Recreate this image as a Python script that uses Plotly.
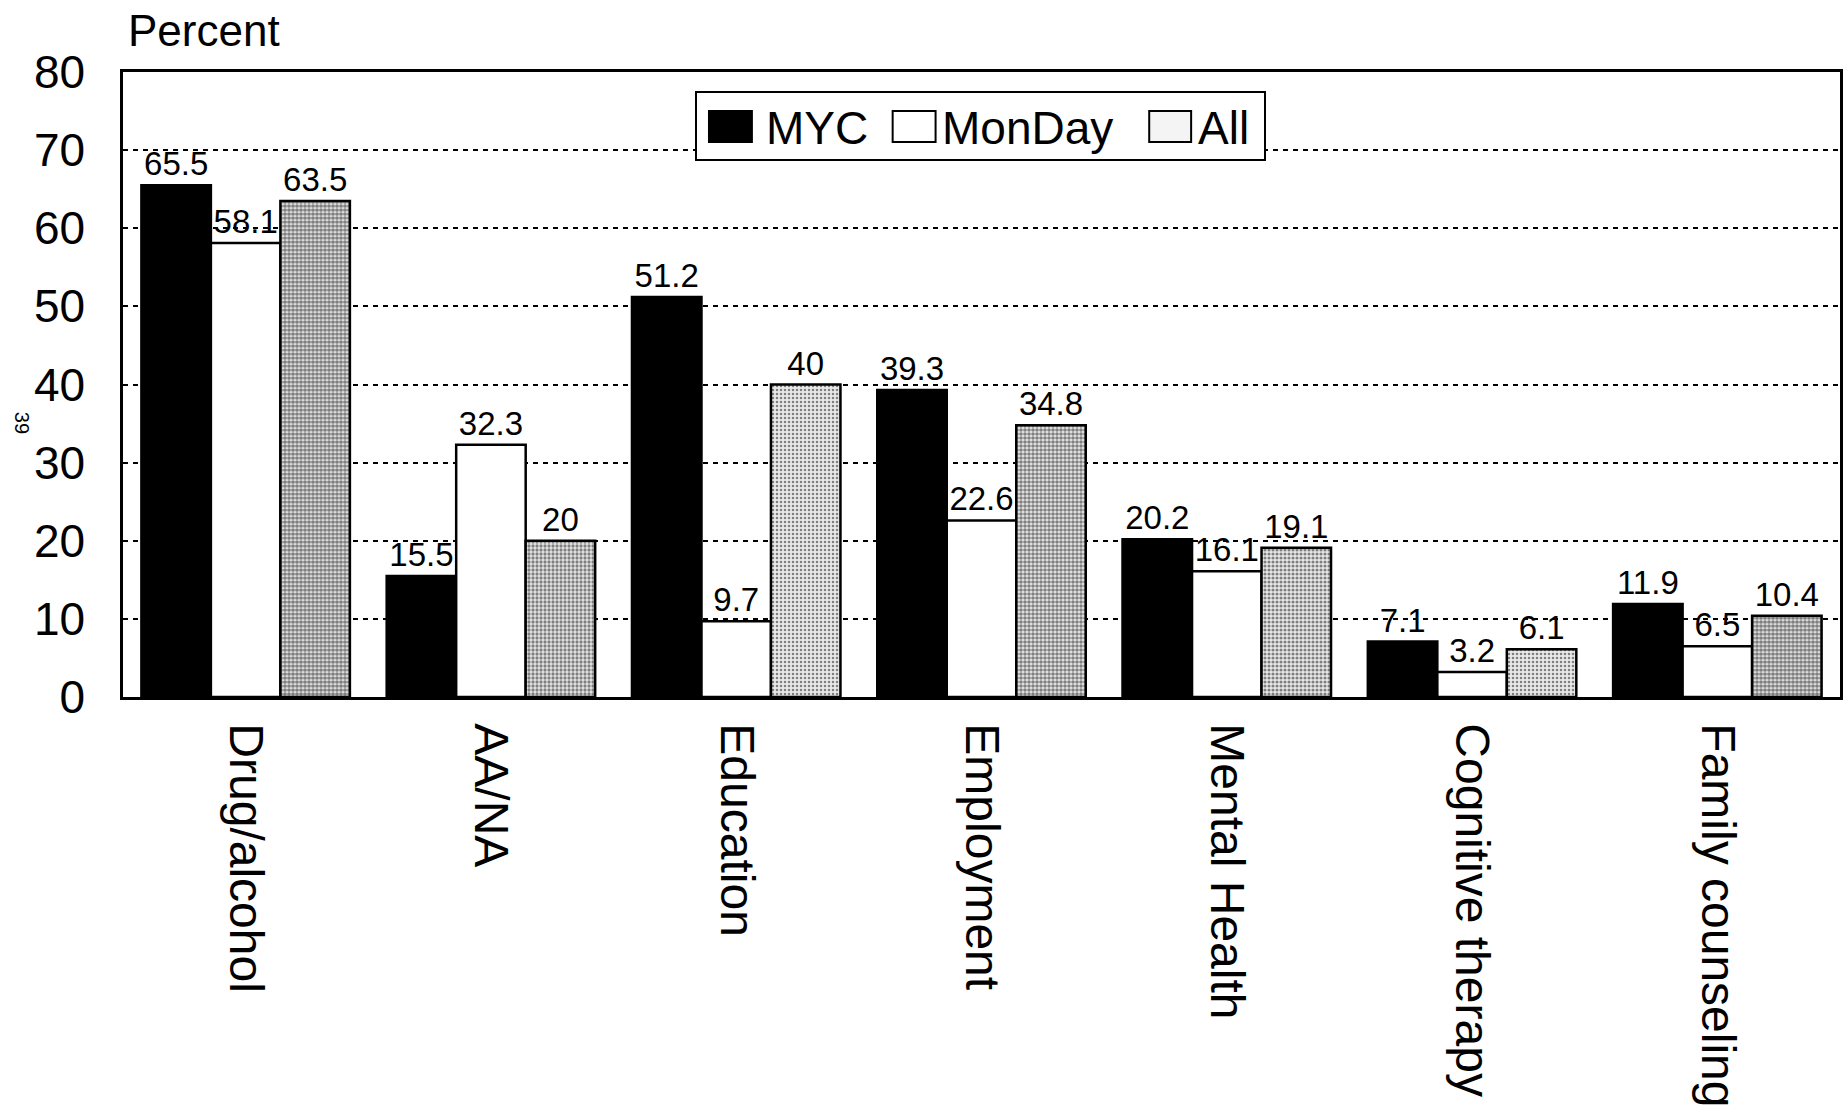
import plotly.graph_objects as go

# ---------------- data ----------------
categories = ["Drug/alcohol", "AA/NA", "Education", "Employment",
              "Mental Health", "Cognitive therapy", "Family counseling"]
myc_values = [65.5, 15.5, 51.2, 39.3, 20.2, 7.1, 11.9]
monday_values = [58.1, 32.3, 9.7, 22.6, 16.1, 3.2, 6.5]
all_values = [63.5, 20, 40, 34.8, 19.1, 6.1, 10.4]
series_names = ["MYC", "MonDay", "All"]
y_tick_values = [0, 10, 20, 30, 40, 50, 60, 70, 80]

# ---------------- style / layout ----------------
FONT = "Liberation Sans, Arial, Helvetica, sans-serif"
W, H = 1847, 1118
PL, PR, PT, PB = 123, 1843, 72, 697   # plot area in pixels
LW = 2.5

def px_x(px):
    return (px - PL) / (PR - PL)

def px_y(py):
    return (PB - py) / (PB - PT)

stipple_solidity = [0.68, 0.52, 0.32, 0.62, 0.48, 0.32, 0.68]

fig = go.Figure()
fig.add_bar(
    x=categories, y=myc_values, name=series_names[0],
    marker=dict(color="black", line=dict(color="black", width=LW)),
)
fig.add_bar(
    x=categories, y=monday_values, name=series_names[1],
    marker=dict(color="white", line=dict(color="black", width=LW)),
)
fig.add_bar(
    x=categories, y=all_values, name=series_names[2],
    marker=dict(
        color="white",
        line=dict(color="black", width=LW),
        pattern=dict(shape=".", fgcolor="#151515", bgcolor="#e8e8e8",
                     size=4, solidity=stipple_solidity),
    ),
)
fig.update_traces(
    texttemplate="%{y}", textposition="outside", cliponaxis=False,
    constraintext="none",
    textfont=dict(family=FONT, size=33, color="black"),
    showlegend=False,
)

fig.update_layout(
    width=W, height=H,
    margin=dict(l=PL, r=W - PR, t=PT, b=H - PB, pad=0),
    paper_bgcolor="white", plot_bgcolor="white",
    barmode="group", bargap=0.15, bargroupgap=0,
    font=dict(family=FONT, color="black"),
    showlegend=False,
)
fig.update_xaxes(
    showline=True, mirror=True, linecolor="black", linewidth=LW,
    tickangle=90, tickfont=dict(size=48, family=FONT, color="black"),
    ticks="", ticklabelstandoff=14, showgrid=False,
)
fig.update_yaxes(
    range=[0, 80], tickmode="array", tickvals=y_tick_values,
    ticktext=[str(v) for v in y_tick_values],
    tickfont=dict(size=46, family=FONT, color="black"),
    showline=True, mirror=True, linecolor="black", linewidth=LW,
    showgrid=True, gridcolor="black", gridwidth=1.5, griddash="5px,5px",
    zeroline=False, ticks="", ticklabelstandoff=26,
)

# axis title "Percent"
fig.add_annotation(
    text="Percent", xref="paper", yref="paper",
    x=px_x(126), y=px_y(30), xanchor="left", yanchor="middle",
    showarrow=False, font=dict(size=44, family=FONT, color="black"),
)
# page number at left margin
fig.add_annotation(
    text="39", xref="paper", yref="paper",
    x=px_x(22), y=px_y(423), xanchor="center", yanchor="middle",
    textangle=90, showarrow=False,
    font=dict(size=20, family=FONT, color="black"),
)

# ---------------- legend (boxed, large swatches) ----------------
fig.add_shape(type="rect", xref="paper", yref="paper",
              x0=px_x(697), x1=px_x(1267), y0=px_y(160), y1=px_y(92),
              line=dict(color="black", width=2), fillcolor="white", layer="above")
legend_items = [
    (series_names[0], "black", 710, 753, 765),
    (series_names[1], "white", 894, 937, 941),
    (series_names[2], "#f4f4f4", 1151, 1193, 1198),
]
for name, fill, sx0, sx1, tx in legend_items:
    fig.add_shape(type="rect", xref="paper", yref="paper",
                  x0=px_x(sx0), x1=px_x(sx1), y0=px_y(142), y1=px_y(111),
                  line=dict(color="black", width=2), fillcolor=fill, layer="above")
    fig.add_annotation(
        text=name, xref="paper", yref="paper",
        x=px_x(tx), y=px_y(128), xanchor="left", yanchor="middle",
        showarrow=False, font=dict(size=46, family=FONT, color="black"),
    )

fig.write_html("out.html")
